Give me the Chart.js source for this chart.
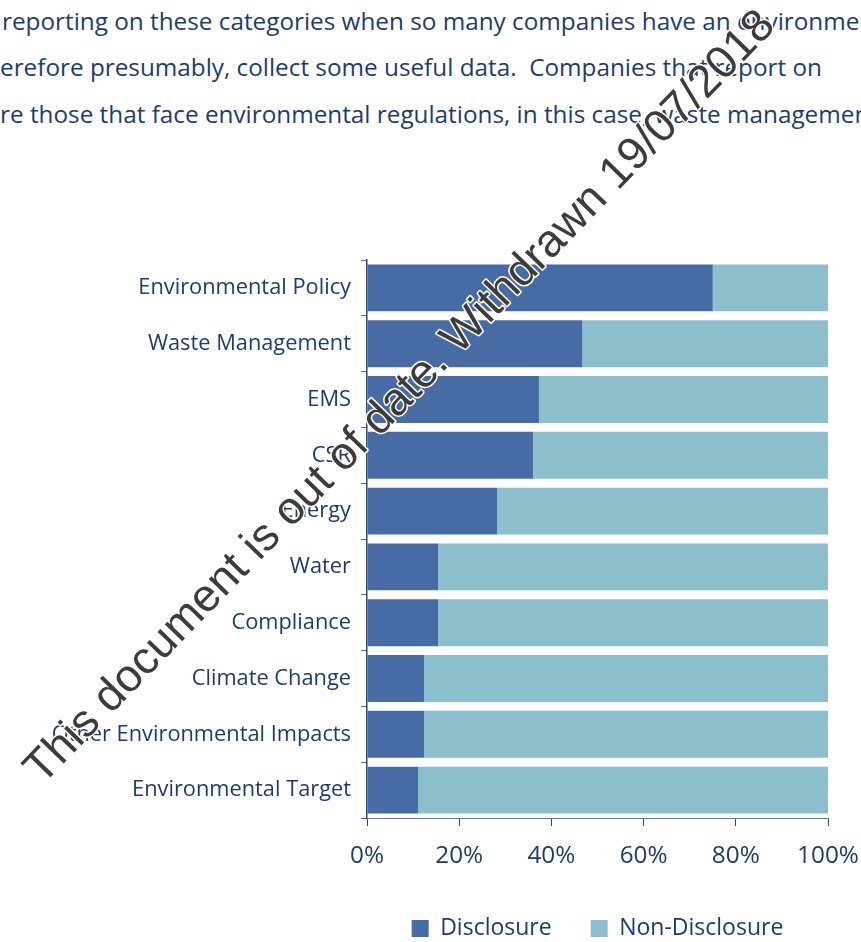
<!DOCTYPE html>
<html>
<head>
<meta charset="utf-8">
<script src="https://cdn.jsdelivr.net/npm/chart.js@4.4.0/dist/chart.umd.min.js"></script>
<style>
  html, body { margin: 0; padding: 0; width: 861px; height: 942px; overflow: hidden; background: #ffffff; }
  .para { position: absolute; left: 0; white-space: nowrap; font-family: "Open Sans", sans-serif; font-size: 24.3px; line-height: 34px; color: #1c3d6c; }
  #wrap { position: absolute; left: 0; top: 0; width: 861px; height: 960px; }
</style>
</head>
<body>
<div class="para" style="top:3.6px; left:2px">reporting on these categories when so many companies have an environmental</div>
<div class="para" style="top:50px">erefore presumably, collect some useful data.&nbsp; Companies that report on</div>
<div class="para" style="top:96.5px">re those that face environmental regulations, in this case, waste management</div>
<div id="wrap"><canvas id="chart" width="861" height="960"></canvas></div>
<script>
// Reporting categories, top to bottom
const categories = [
  'Environmental Policy', 'Waste Management', 'EMS', 'CSR', 'Energy',
  'Water', 'Compliance', 'Climate Change', 'Other Environmental Impacts', 'Environmental Target'
];
// Share of companies disclosing / not disclosing (%)
const disclosure    = [75.0, 46.7, 37.3, 36.0, 28.2, 15.4, 15.4, 12.4, 12.4, 11.1];
const nonDisclosure = [25.0, 53.3, 62.7, 64.0, 71.8, 84.6, 84.6, 87.6, 87.6, 88.9];
const seriesNames = ['Disclosure', 'Non-Disclosure'];
const xTicks = [0, 20, 40, 60, 80, 100];
const stampText = 'This document is out of date. Withdrawn 19/07/2018';

const NAVY = '#1c3d6c';
const FONT = '"Open Sans", sans-serif';

// Diagonal "withdrawn" stamp drawn across the whole page
const stamp = {
  id: 'stamp',
  afterDraw(chart) {
    const ctx = chart.ctx;
    const x0 = 42, y0 = 786, x1 = 777, y1 = 27;
    const len = Math.hypot(x1 - x0, y1 - y0);
    const ang = Math.atan2(y1 - y0, x1 - x0);
    ctx.save();
    ctx.translate((x0 + x1) / 2, (y0 + y1) / 2);
    ctx.rotate(ang);
    ctx.font = '100px "Liberation Sans", Arial, sans-serif';
    const size = 100 * len / ctx.measureText(stampText).width;
    ctx.font = size + 'px "Liberation Sans", Arial, sans-serif';
    ctx.textAlign = 'center';
    ctx.textBaseline = 'alphabetic';
    ctx.lineJoin = 'round';
    ctx.lineWidth = 3;
    ctx.strokeStyle = '#ffffff';
    ctx.strokeText(stampText, 0, 0);
    ctx.fillStyle = '#3c3c3c';
    ctx.fillText(stampText, 0, 0);
    ctx.restore();
  }
};

new Chart(document.getElementById('chart'), {
  type: 'bar',
  data: {
    labels: categories,
    datasets: [
      { label: seriesNames[0], data: disclosure, backgroundColor: '#466ba5',
        barPercentage: 0.84, categoryPercentage: 1 },
      { label: seriesNames[1], data: nonDisclosure, backgroundColor: '#8abfcb',
        barPercentage: 0.84, categoryPercentage: 1 }
    ]
  },
  options: {
    indexAxis: 'y',
    responsive: false,
    animation: false,
    layout: { padding: { top: 260, right: 33, left: 0, bottom: 10 } },
    plugins: {
      legend: {
        position: 'bottom',
        fullSize: false,
        labels: {
          boxWidth: 17, boxHeight: 17, padding: 39,
          color: NAVY, font: { family: FONT, size: 23 }
        }
      },
      tooltip: { enabled: false }
    },
    scales: {
      x: {
        stacked: true, min: 0, max: 100,
        afterBuildTicks(s) { s.ticks = xTicks.map(v => ({ value: v })); },
        ticks: { callback: v => v + '%', color: NAVY, font: { family: FONT, size: 24.3 }, padding: 15, maxRotation: 0 },
        grid: { drawOnChartArea: false, drawTicks: true, tickLength: 8, color: '#2c4a78' },
        border: { color: '#5f7ea6', width: 1 },
        afterFit(s) { s.height = 60; s.paddingLeft = 0; s.paddingRight = 0; }
      },
      y: {
        stacked: true,
        ticks: { color: NAVY, font: { family: FONT, size: 21.8 }, padding: 10 },
        grid: { drawOnChartArea: false, drawTicks: true, tickLength: 6, color: '#4f6e98' },
        border: { color: '#2c4a78', width: 1.5 },
        afterFit(s) { s.width = 367; }
      }
    }
  },
  plugins: [stamp]
});
</script>
</body>
</html>
